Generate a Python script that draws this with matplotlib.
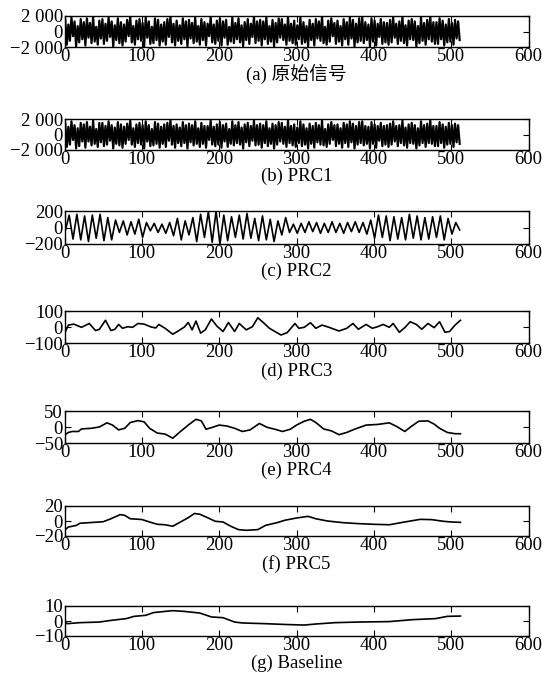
import numpy as np
import matplotlib.pyplot as plt

plt.rcParams['font.family'] = ['Liberation Serif', 'Noto Sans CJK SC']
plt.rcParams['path.simplify'] = False

# (a) original signal and (b) PRC1: peaks/troughs read every 2 samples
orig_x = np.arange(1, 513, 2)
orig_y = [
    1500, -1700, 900, -1200, 1800, -600, 1300, -1900, 700, -1400, 1600, -1000, 1200, -1800, 1700, -800,
    1100, -1500, 1900, -1300, 600, -1700, 1400, -900, 1600, -1600, 1000, -1200, 1800, -700, 1300, -1900,
    800, -1100, 1700, -1500, 1200, -1800, 900, -1300, 1500, -600, 1900, -1400, 700, -1700, 1400, -1000,
    1600, -1200, 1100, -1900, 1800, -800, 1300, -1600, 600, -1500, 1700, -1100, 1500, -1800, 900, -1300,
    1200, -1700, 1600, -700, 1900, -1400, 1000, -1800, 1400, -1200, 800, -1600, 1700, -1000, 1300, -1900,
    1500, -900, 1100, -1500, 1800, -1300, 700, -1700, 1600, -1100, 1200, -1800, 1000, -600, 1900, -1400,
    900, -1600, 1400, -1200, 1700, -1800, 1300, -800, 1500, -1700, 600, -1300, 1800, -1500, 1100, -1000,
    1700, -1400, 800, -1900, 1200, -1100, 1600, -1600, 1000, -700, 1900, -1500, 1300, -1200, 1500, -1800,
    1300, -1000, 1800, -1600, 700, -1300, 1500, -1900, 1100, -1400, 1700, -800, 1600, -1100, 900, -1700,
    1900, -1200, 1000, -1500, 1400, -1700, 800, -1000, 1800, -1600, 1200, -1400, 700, -1900, 1500, -1100,
    1000, -1800, 1600, -900, 1300, -1200, 1900, -1500, 600, -1700, 1400, -1300, 1700, -600, 1100, -1600,
    1400, -1300, 700, -1800, 1600, -1000, 1200, -1700, 1800, -900, 1500, -1900, 1000, -1400, 1700, -1200,
    1800, -1500, 1200, -1100, 900, -1900, 1700, -1300, 1400, -1800, 1000, -700, 1600, -1600, 1200, -1400,
    1100, -1700, 1500, -1400, 1800, -800, 1000, -1600, 1300, -1200, 1900, -1500, 800, -1800, 1400, -1000,
    1600, -1100, 1300, -1900, 700, -1500, 1800, -1200, 1100, -1700, 1500, -1000, 1900, -1300, 1200, -1600,
    1200, -1600, 1700, -1000, 1400, -1800, 900, -1400, 1600, -1300, 1100, -1700, 1500, -900, 1300, -1100,
]

prc1_x = np.arange(1, 513, 2)
prc1_y = [
    1400, -1600, 1000, -1300, 1700, -700, 1200, -1800, 800, -1500, 1500, -900, 1300, -1700, 1600, -900,
    1000, -1400, 1800, -1200, 700, -1600, 1500, -1000, 1500, -1500, 1100, -1300, 1700, -800, 1200, -1800,
    900, -1200, 1600, -1400, 1300, -1700, 1000, -1200, 1400, -700, 1800, -1300, 800, -1600, 1300, -1100,
    1500, -1300, 1200, -1800, 1700, -900, 1200, -1500, 700, -1400, 1600, -1200, 1400, -1700, 1000, -1200,
    1300, -1600, 1500, -800, 1800, -1300, 1100, -1700, 1300, -1100, 900, -1500, 1600, -1100, 1200, -1800,
    1400, -1000, 1200, -1400, 1700, -1200, 800, -1600, 1500, -1200, 1100, -1700, 1100, -700, 1800, -1300,
    1000, -1500, 1300, -1300, 1600, -1700, 1200, -900, 1400, -1600, 700, -1200, 1700, -1400, 1200, -1100,
    1600, -1300, 900, -1800, 1300, -1000, 1500, -1500, 1100, -800, 1800, -1400, 1200, -1300, 1400, -1700,
    1200, -1100, 1700, -1500, 800, -1200, 1400, -1800, 1200, -1300, 1600, -900, 1500, -1200, 1000, -1600,
    1800, -1100, 1100, -1400, 1300, -1600, 900, -1100, 1700, -1500, 1300, -1300, 800, -1800, 1400, -1200,
    1100, -1700, 1500, -1000, 1200, -1300, 1800, -1400, 700, -1600, 1300, -1200, 1600, -700, 1200, -1500,
    1300, -1200, 800, -1700, 1500, -1100, 1300, -1600, 1700, -1000, 1400, -1800, 1100, -1300, 1600, -1100,
    1700, -1400, 1100, -1200, 1000, -1800, 1600, -1200, 1300, -1700, 1100, -800, 1500, -1500, 1100, -1300,
    1200, -1600, 1400, -1300, 1700, -900, 1100, -1500, 1200, -1100, 1800, -1400, 900, -1700, 1300, -1100,
    1500, -1200, 1200, -1800, 800, -1400, 1700, -1100, 1200, -1600, 1400, -1100, 1800, -1200, 1100, -1500,
    1100, -1500, 1600, -1100, 1300, -1700, 1000, -1300, 1500, -1200, 1200, -1600, 1400, -1000, 1200, -1200,
]

# (c) PRC2: extrema every 5 samples
prc2_x = np.arange(1, 513, 5)
prc2_y = [
    -40, 150, -140, 160, -150, 140, -170, 150, -130, 160, -160, 120,
    -150, 90, -60, 80, -90, 70, -80, 100,
    -120, 60, -40, 50, -60, 40,
    -70, 60, -100, 110, -150, 80, -90, 120,
    -170, 160, -120, 190, -180, 200,
    -200, 150, -160, 130, -120, 150,
    -140, 170, -130, 110, -160, 140, -150, 100,
    -170, 80, -90, 120, -60, 40,
    -70, 50, -60, 70, -50, 60, -70, 50, -60, 70, -60, 50, -70, 60, -50, 70, -60, 60, -80, 90,
    -130, 150, -120, 140, -160, 130, -140, 120, -150, 160, -130, 140, -150, 120, -140, 130, -120, 140, -150, 110,
    -80, 60, -30,
]

# (d) PRC3
prc3_x = [1, 5, 12, 22, 32, 40, 45, 53, 60, 65, 70, 75, 82, 88, 95, 103, 112, 118, 122, 130,
          140, 148, 155, 160, 165, 170, 176, 182, 190, 197, 205, 212, 220, 226, 235, 243, 250, 257,
          265, 272, 280, 288, 298, 303, 310, 318, 325, 333, 342, 355, 365, 373, 380, 390, 398, 405,
          412, 420, 425, 433, 440, 447, 455, 462, 470, 478, 485, 492, 498, 505, 512]
prc3_y = [-30, 12, 18, -2, 22, -22, -15, 42, -22, -15, 16, -8, 2, -2, 22, 18, 0, -6, 16, -8,
          -45, -22, 0, 28, -18, 37, -38, -18, 50, 6, -28, 28, -28, 22, -18, 2, 58, 28,
          -8, -28, -50, -35, 22, -8, -2, 27, -8, 12, -2, -25, -8, 22, -14, 16, -8, 2,
          16, -2, 22, -33, -4, 33, 16, -14, 22, -4, 33, -33, -28, 12, 42]

# (e) PRC4
prc4_x = [1, 5, 10, 18, 22, 35, 45, 55, 62, 70, 78, 85, 95, 103, 110, 120, 130, 140, 150, 160,
          170, 177, 183, 190, 200, 210, 220, 230, 240, 252, 262, 272, 282, 292, 300, 310, 318, 325,
          335, 345, 355, 365, 375, 390, 405, 420, 430, 440, 448, 458, 470, 478, 485, 495, 505, 512]
prc4_y = [-24, -17, -14, -14, -6, -4, 0, 13, 6, -9, -4, 14, 20, 16, -4, -19, -22, -35, -14, 6,
          24, 19, -7, -2, 6, 3, -4, -14, -9, 11, -1, -7, -14, -7, 6, 18, 24, 14,
          -6, -12, -24, -17, -7, 6, 8, 13, 1, -14, 1, 18, 19, 9, -4, -17, -21, -21]

# (f) PRC5
prc5_x = [1, 5, 15, 20, 35, 50, 60, 72, 78, 85, 100, 110, 120, 130, 140, 150, 160, 168, 175, 185,
          195, 205, 215, 225, 235, 250, 260, 275, 285, 300, 315, 325, 340, 360, 380, 400, 420, 440,
          460, 475, 490, 500, 512]
prc5_y = [-11.5, -8, -6, -3, -2, -1, 3, 8.5, 7.5, 3, 2, -1.3, -4.4, -5, -7, -1.3, 4.4, 10, 9, 4.4,
          -0.4, -1.3, -7, -11.5, -12.4, -11.5, -5.8, -2.2, 1, 4, 6.2, 3, 0, -2.2, -3.5, -4.4, -5, -1.3,
          2.2, 1.8, -0.4, -1.3, -1.8]

# (g) Baseline
base_x = [1, 3, 20, 45, 60, 80, 90, 105, 115, 130, 140, 155, 175, 190, 205, 220, 230, 260, 290,
          310, 325, 350, 380, 420, 450, 480, 495, 512]
base_y = [0, -1.8, -1.1, -0.7, 0.4, 1.6, 3.1, 3.8, 5.6, 6.4, 6.9, 6.4, 5.3, 2.7, 2.2, -0.7, -1.3,
          -1.8, -2.4, -2.7, -2.0, -1.1, -0.7, -0.4, 0.9, 1.6, 3.1, 3.3]

captions = ['(a) 原始信号', '(b) PRC1', '(c) PRC2', '(d) PRC3', '(e) PRC4', '(f) PRC5', '(g) Baseline']
ylims = [2000, 2000, 200, 100, 50, 20, 10]
ylabels = [['\u22122 000', '0', '2 000'], ['\u22122 000', '0', '2 000'],
           ['\u2212200', '0', '200'], ['\u2212100', '0', '100'],
           ['\u221250', '0', '50'], ['\u221220', '0', '20'], ['\u221210', '0', '10']]
series = [(orig_x, orig_y), (prc1_x, prc1_y), (prc2_x, prc2_y), (prc3_x, prc3_y),
          (prc4_x, prc4_y), (prc5_x, prc5_y), (base_x, base_y)]

# box top/bottom and caption position in pixels (figure is 542x686)
W, H = 542, 686
box_px = [(16, 47), (119, 150), (211, 244), (311, 343), (411, 443), (506, 536), (606, 636)]
cap_px = [74, 176, 271, 371, 470, 564, 663]
left_px, right_px = 64.5, 528.5

fig = plt.figure(figsize=(W / 100, H / 100), dpi=100)

for i, (x, y) in enumerate(series):
    top, bot = box_px[i]
    ax = fig.add_axes([left_px / W, 1 - bot / H, (right_px - left_px) / W, (bot - top) / H])
    # the two dense signals need a thicker pen to read as a solid band
    lw = 1.6 if i < 2 else 1.2
    ax.plot(x, y, color='black', linewidth=lw)
    L = ylims[i]
    ax.set_xlim(0, 600)
    ax.set_ylim(-L, L)
    ax.set_xticks(np.arange(0, 601, 100))
    ax.set_yticks([-L, 0, L])
    ax.set_yticklabels(ylabels[i])
    ax.tick_params(direction='in', top=True, right=True, length=4, width=0.8,
                   labelsize=13.5, pad=1)
    ax.tick_params(axis='y', pad=1)
    for s in ax.spines.values():
        s.set_linewidth(1.0)
    fig.text((left_px + right_px) / 2 / W, 1 - cap_px[i] / H, captions[i],
             ha='center', va='center', fontsize=13.5)

fig.savefig('out.png', dpi=100)
